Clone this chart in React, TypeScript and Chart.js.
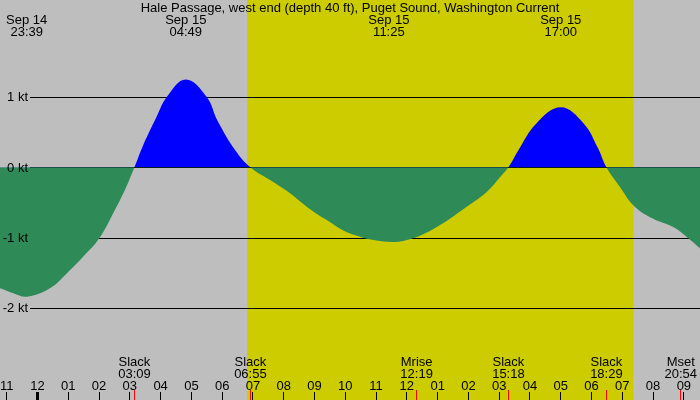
import React, { useEffect, useRef } from 'react';
import { Chart, registerables } from 'chart.js';

Chart.register(...registerables);

const TITLE = 'Hale Passage, west end (depth 40 ft), Puget Sound, Washington Current';

// current speed samples: hours relative to Sep 15 00:00, knots (+ flood / - ebb)
const sampleHours = [
  -1.218, -0.786, -0.35, 0.406, 0.949, 1.488, 2.008, 2.463, 2.843, 3.15,
  3.42, 3.85, 4.2, 4.817, 5.5, 5.841, 6.43, 6.917,
  7.661, 8.204, 8.746, 9.396, 10.153, 11.417, 12.2, 13.077, 13.944, 14.594, 15.026, 15.3,
  15.62, 16.2, 17.0, 17.75, 18.2, 18.483,
  18.924, 19.357, 19.899, 20.656, 21.092, 21.524,
];
const currentKt = [
  -1.72, -1.79, -1.84, -1.72, -1.51, -1.27, -1.01, -0.65, -0.32, 0,
  0.3, 0.7, 1.0, 1.25, 1.0, 0.67, 0.24, 0,
  -0.21, -0.37, -0.56, -0.75, -0.94, -1.06, -1.01, -0.82, -0.56, -0.35, -0.14, 0,
  0.24, 0.62, 0.853, 0.62, 0.28, 0,
  -0.28, -0.54, -0.71, -0.85, -0.99, -1.15,
];

const extremaHours = [-0.35, 4.817, 11.417, 17.0];
const extremaDates = ['Sep 14', 'Sep 15', 'Sep 15', 'Sep 15'];
const extremaTimes = ['23:39', '04:49', '11:25', '17:00'];

const eventHours = [3.15, 6.917, 12.317, 15.3, 18.483, 20.9];
const eventNames = ['Slack', 'Slack', 'Mrise', 'Slack', 'Slack', 'Mset'];
const eventTimes = ['03:09', '06:55', '12:19', '15:18', '18:29', '20:54'];

const hourTicks = [-1, 0, 1, 2, 3, 4, 5, 6, 7, 8, 9, 10, 11, 12, 13, 14, 15, 16, 17, 18, 19, 20, 21];
const hourLabels = ['11', '12', '01', '02', '03', '04', '05', '06', '07', '08', '09', '10', '11', '12', '01', '02', '03', '04', '05', '06', '07', '08', '09'];

const yTicks = [1, 0, -1, -2];
const yLabels = ['1 kt', '0 kt', '-1 kt', '-2 kt'];

const sunriseHour = 6.81;
const sunsetHour = 19.36;

const X_MIN = -1.218;
const X_MAX = 21.524;
const Y_MIN = -3.309;
const Y_MAX = 2.379;

const FONT = '13px "Liberation Sans", Arial, sans-serif';

const decorPlugin = {
  id: 'tideDecor',
  beforeDraw(chart: any) {
    const { ctx, chartArea, scales } = chart;
    const x = scales.x;
    ctx.save();
    ctx.fillStyle = '#bebebe';
    ctx.fillRect(chartArea.left, chartArea.top, chartArea.right - chartArea.left, chartArea.bottom - chartArea.top);
    const x1 = x.getPixelForValue(sunriseHour);
    const x2 = x.getPixelForValue(sunsetHour);
    ctx.fillStyle = '#cccc00';
    ctx.fillRect(x1, chartArea.top, x2 - x1, chartArea.bottom - chartArea.top);
    ctx.restore();
  },
  beforeDatasetsDraw(chart: any) {
    const { ctx, chartArea, scales } = chart;
    const y = scales.y;
    ctx.save();
    ctx.strokeStyle = '#000000';
    ctx.lineWidth = 1;
    yTicks.forEach((v) => {
      const py = Math.round(y.getPixelForValue(v)) + 0.5;
      ctx.beginPath();
      ctx.moveTo(30, py);
      ctx.lineTo(chartArea.right, py);
      ctx.stroke();
    });
    ctx.restore();
  },
  afterDatasetsDraw(chart: any) {
    const { ctx, chartArea, scales } = chart;
    const x = scales.x;
    const y = scales.y;
    ctx.save();
    ctx.font = FONT;
    ctx.fillStyle = '#000000';
    ctx.textBaseline = 'alphabetic';

    // title
    ctx.textAlign = 'center';
    ctx.fillText(TITLE, (chartArea.left + chartArea.right) / 2, 12);

    // extrema labels
    extremaHours.forEach((h, i) => {
      const px = x.getPixelForValue(h);
      ctx.fillText(extremaDates[i], px, 24);
      ctx.fillText(extremaTimes[i], px, 36);
    });

    // y labels
    ctx.textAlign = 'right';
    yTicks.forEach((v, i) => {
      const py = y.getPixelForValue(v);
      ctx.fillText(yLabels[i], 28, py + 4.5);
    });

    // event labels
    ctx.textAlign = 'center';
    eventHours.forEach((h, i) => {
      const px = x.getPixelForValue(h);
      ctx.fillText(eventNames[i], px, 366);
      ctx.fillText(eventTimes[i], px, 378);
    });

    // hour labels & ticks
    hourTicks.forEach((h, i) => {
      const px = x.getPixelForValue(h);
      ctx.fillStyle = '#000000';
      ctx.fillText(hourLabels[i], px, 390);
      const w = h === 0 ? 3 : 1;
      ctx.fillRect(Math.round(px - w / 2), 392, w, chartArea.bottom - 392);
    });

    // event ticks
    ctx.fillStyle = '#ff0000';
    eventHours.forEach((h) => {
      const px = x.getPixelForValue(h);
      ctx.fillRect(Math.round(px - 0.5), 390, 1, chartArea.bottom - 390);
    });
    ctx.restore();
  },
};

export default function App() {
  const canvasRef = useRef<HTMLCanvasElement | null>(null);

  useEffect(() => {
    document.body.style.margin = '0';
    const canvas = canvasRef.current;
    if (!canvas) return;
    const points = sampleHours.map((h, i) => ({ x: h, y: currentKt[i] }));
    const chart = new Chart(canvas, {
      type: 'line',
      data: {
        datasets: [
          {
            data: points,
            borderWidth: 0,
            borderColor: 'rgba(0,0,0,0)',
            pointRadius: 0,
            tension: 0.4,
            fill: { target: 'origin', above: '#0000ff', below: '#2e8b57' },
          } as any,
        ],
      },
      options: {
        animation: false,
        responsive: true,
        maintainAspectRatio: false,
        layout: { padding: 0 },
        plugins: { legend: { display: false }, tooltip: { enabled: false }, title: { display: false } },
        scales: {
          x: { type: 'linear', min: X_MIN, max: X_MAX, display: false },
          y: { type: 'linear', min: Y_MIN, max: Y_MAX, display: false },
        },
      },
      plugins: [decorPlugin],
    });
    return () => chart.destroy();
  }, []);

  return (
    <div style={{ width: 700, height: 400, position: 'relative' }}>
      <canvas ref={canvasRef} />
    </div>
  );
}
